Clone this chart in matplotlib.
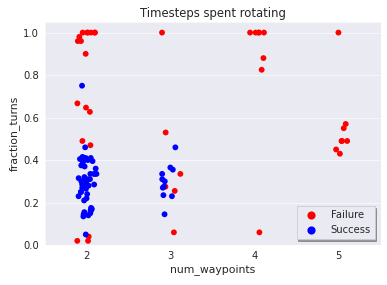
import numpy as np
import pandas as pd
import matplotlib
matplotlib.use("Agg")
import matplotlib.pyplot as plt
import seaborn as sns

# fraction of timesteps spent turning, per number of waypoints and outcome
fail_2 = [1.0, 1.0, 1.0, 1.0, 1.0, 1.0, 0.98, 0.96, 0.96, 0.90,
          0.667, 0.647, 0.627, 0.49, 0.47, 0.04, 0.02, 0.02]
succ_2 = [0.75, 0.46, 0.415, 0.41, 0.41, 0.405, 0.40, 0.395, 0.39,
          0.375, 0.37, 0.36, 0.335, 0.335, 0.335, 0.335, 0.32, 0.315,
          0.31, 0.31, 0.30, 0.30, 0.295, 0.29, 0.285, 0.285, 0.285,
          0.285, 0.28, 0.27, 0.27, 0.265, 0.25, 0.25, 0.24, 0.23, 0.22,
          0.21, 0.175, 0.17, 0.165, 0.16, 0.155, 0.15, 0.145, 0.14,
          0.135, 0.05]
fail_3 = [1.0, 0.53, 0.335, 0.275, 0.255, 0.06]
succ_3 = [0.46, 0.365, 0.355, 0.335, 0.31, 0.30, 0.275, 0.27, 0.235,
          0.23, 0.145]
fail_4 = [1.0, 1.0, 1.0, 1.0, 1.0, 0.88, 0.825, 0.06]
fail_5 = [1.0, 0.57, 0.55, 0.49, 0.49, 0.49, 0.45, 0.43]

rows = []
for n, vals, lab in [(2, fail_2, "Failure"), (2, succ_2, "Success"),
                     (3, fail_3, "Failure"), (3, succ_3, "Success"),
                     (4, fail_4, "Failure"), (5, fail_5, "Failure")]:
    for v in vals:
        rows.append((n, v, lab))
df = pd.DataFrame(rows, columns=["num_waypoints", "fraction_turns", "outcome"])

sns.set_style("darkgrid")
plt.rcParams['font.family'] = ['DejaVu Sans']

np.random.seed(3)
fig = plt.figure(figsize=(6.45, 4.75), dpi=60)
ax = fig.add_axes([0.116, 0.14, 0.868, 0.783])
sns.stripplot(data=df, x="num_waypoints", y="fraction_turns", hue="outcome",
              hue_order=["Failure", "Success"],
              palette={"Failure": "red", "Success": "blue"},
              jitter=0.12, size=7, linewidth=0, ax=ax)
ax.set_ylim(0, 1.05)
ax.set_xlim(-0.5, 3.5)
ax.set_title("Timesteps spent rotating", fontsize=14, color="#262626")
ax.set_xlabel("num_waypoints", fontsize=13, color="#262626")
ax.set_ylabel("fraction_turns", fontsize=13, color="#262626")
ax.tick_params(labelsize=12, colors="#262626")
leg = ax.legend(loc="lower right", frameon=True, shadow=True, fontsize=12,
                markerscale=1.4, fancybox=False, handletextpad=1.0,
                borderaxespad=0.6)
leg.get_frame().set_facecolor("#eaeaf2")
leg.get_frame().set_edgecolor("#cccccc")

fig.savefig("out.png", dpi=60)
